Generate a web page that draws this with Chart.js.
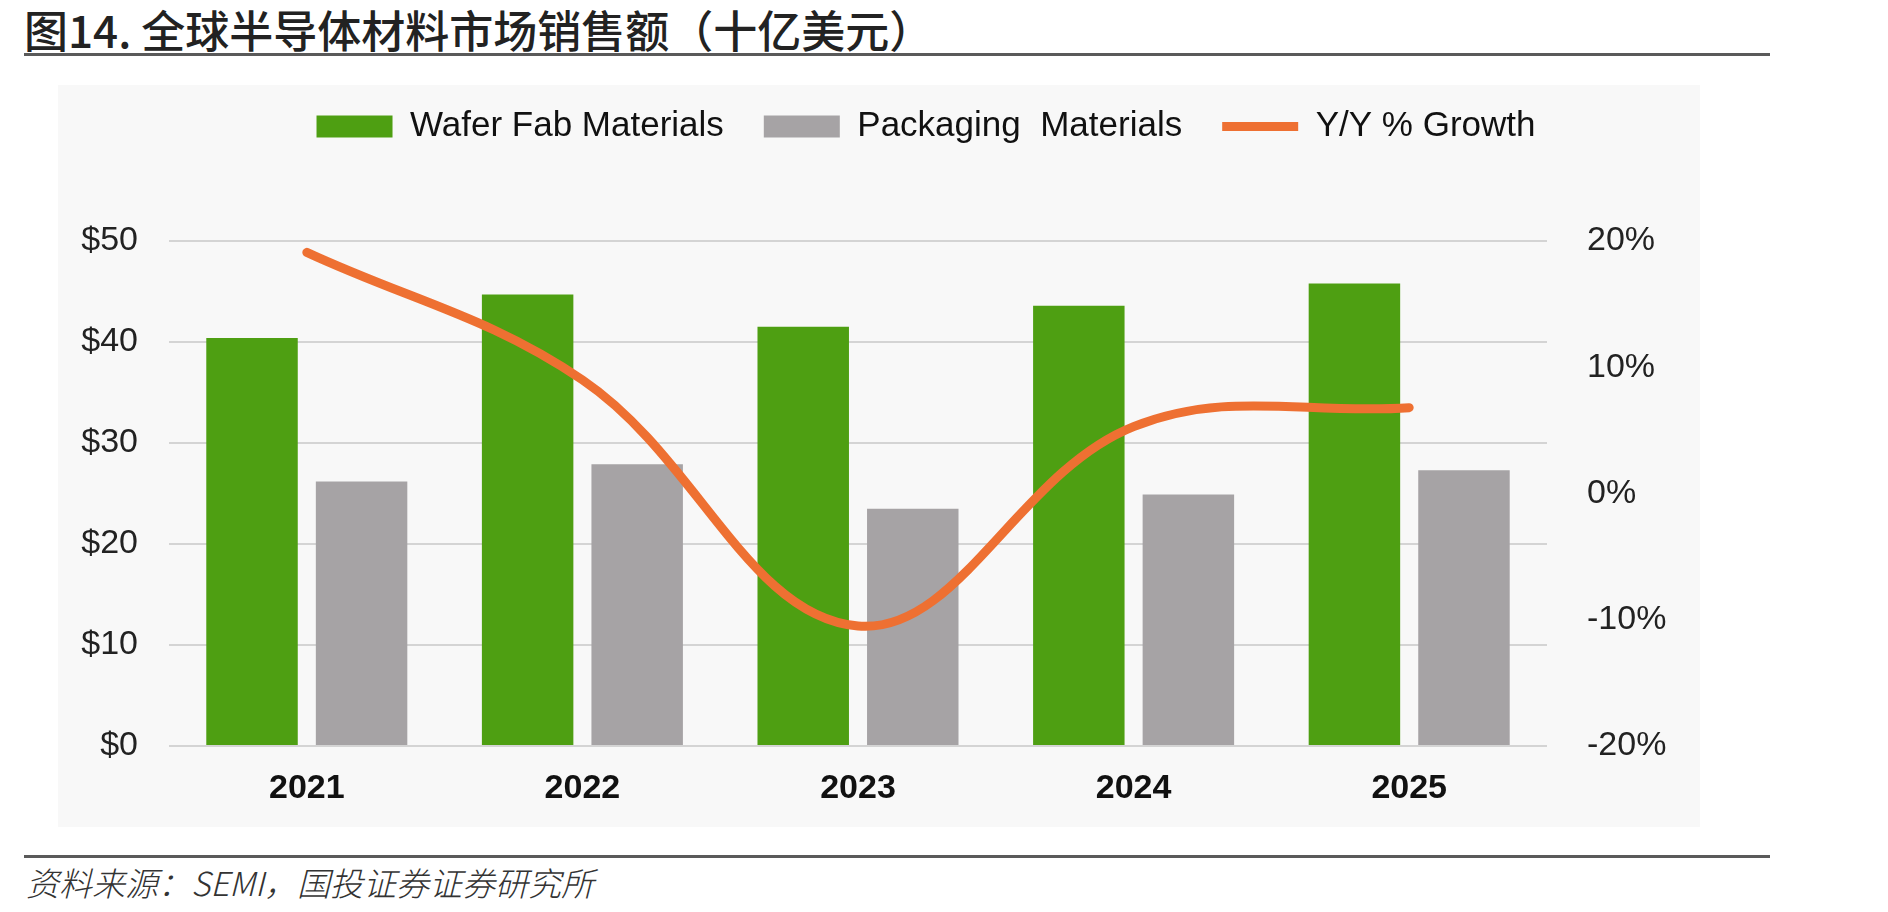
<!DOCTYPE html>
<html>
<head>
<meta charset="utf-8">
<script src="https://cdn.jsdelivr.net/npm/chart.js@4.4.1/dist/chart.umd.min.js"></script>
<style>
  html, body { margin: 0; padding: 0; background: #ffffff; }
  body { width: 1888px; height: 912px; position: relative; overflow: hidden; }
  #title { position: absolute; left: 24px; top: 7px; font-family: "Noto Sans CJK SC", sans-serif; font-size: 44px; line-height: 44px; font-weight: 500; color: #222; white-space: nowrap; }
  .rule { position: absolute; left: 24px; width: 1746px; height: 3px; background: #5a5a5a; }
  #bg { position: absolute; left: 58px; top: 85px; width: 1642px; height: 742px; background: #f8f8f8; }
  #footer { position: absolute; left: 26px; top: 866px; font-family: "Noto Sans CJK SC", sans-serif; font-size: 33px; line-height: 33px; font-style: italic; font-weight: 300; color: #333; white-space: nowrap; }
  #c { position: absolute; left: 0; top: 0; }
</style>
</head>
<body>
<div id="title">图14. 全球半导体材料市场销售额（十亿美元）</div>
<div class="rule" style="top:53px"></div>
<div id="bg"></div>
<div class="rule" style="top:855px"></div>
<div id="footer">资料来源：SEMI，国投证券证券研究所</div>
<canvas id="c" width="1888" height="912"></canvas>
<script>
// ---- data ----
const years = ['2021', '2022', '2023', '2024', '2025'];
const waferFab = [40.4, 44.7, 41.5, 43.6, 45.8];
const packaging = [26.2, 27.9, 23.5, 24.9, 27.3];
const yoyGrowth = [19.1, 9.0, -10.5, 5.3, 6.8];
const seriesNames = ['Wafer Fab Materials', 'Packaging  Materials', 'Y/Y % Growth'];
const leftTicks = [0, 10, 20, 30, 40, 50];
const rightTicks = [-20, -10, 0, 10, 20];

const LEGEND_GAP = 87;
const legendGap = {
  id: 'legendGap',
  beforeLayout(chart) {
    const lg = chart.legend;
    if (lg && !lg.__gap) {
      const orig = lg.fit;
      lg.fit = function () { orig.call(this); this.height += LEGEND_GAP; };
      lg.__gap = true;
    }
  }
};

Chart.defaults.font.family = '"Liberation Sans", Arial, sans-serif';
Chart.defaults.color = '#222';

new Chart(document.getElementById('c'), {
  type: 'bar',
  data: {
    labels: years,
    datasets: [
      {
        label: seriesNames[0], data: waferFab, yAxisID: 'y',
        backgroundColor: '#4e9f12', borderWidth: 0, pointStyle: 'rect',
        categoryPercentage: 0.795, barPercentage: 0.835, order: 1
      },
      {
        label: seriesNames[1], data: packaging, yAxisID: 'y',
        backgroundColor: '#a6a3a5', borderWidth: 0, pointStyle: 'rect',
        categoryPercentage: 0.795, barPercentage: 0.835, order: 1
      },
      {
        type: 'line', label: seriesNames[2], data: yoyGrowth, yAxisID: 'y1',
        borderColor: '#ee7032', backgroundColor: '#ee7032', borderWidth: 9,
        borderCapStyle: 'round', borderJoinStyle: 'round',
        pointRadius: 0, pointHoverRadius: 0, pointStyle: 'line',
        tension: 0.38, fill: false, order: 0
      }
    ]
  },
  options: {
    responsive: false,
    animation: false,
    devicePixelRatio: 1,
    layout: { padding: { top: 69, left: 0, right: 36, bottom: 0 } },
    plugins: {
      tooltip: { enabled: false },
      legend: {
        position: 'top',
        align: 'center',
        labels: {
          usePointStyle: true,
          pointStyleWidth: 76,
          boxHeight: 22,
          padding: 40,
          color: '#111',
          font: { size: 35 },
          sort: (a, b) => a.datasetIndex - b.datasetIndex
        }
      }
    },
    scales: {
      x: {
        grid: { display: false, drawTicks: false },
        border: { display: false },
        ticks: { font: { size: 34, weight: 'bold' }, color: '#111', padding: 22 },
        afterFit: (s) => { s.height = 166; }
      },
      y: {
        position: 'left',
        min: leftTicks[0], max: leftTicks[leftTicks.length - 1],
        afterBuildTicks: (s) => { s.ticks = leftTicks.map(v => ({ value: v })); },
        ticks: { font: { size: 34 }, color: '#222', padding: 31, callback: (v) => '$' + v },
        grid: { color: '#d4d4d4', lineWidth: 2, drawTicks: false },
        border: { display: false },
        afterFit: (s) => { s.width = 169; }
      },
      y1: {
        position: 'right',
        min: rightTicks[0], max: rightTicks[rightTicks.length - 1],
        afterBuildTicks: (s) => { s.ticks = rightTicks.map(v => ({ value: v })); },
        ticks: { font: { size: 34 }, color: '#222', padding: 40, callback: (v) => v + '%' },
        grid: { display: false, drawTicks: false },
        border: { display: false },
        afterFit: (s) => { s.width = 305; }
      }
    }
  },
  plugins: [legendGap]
});
</script>
</body>
</html>
